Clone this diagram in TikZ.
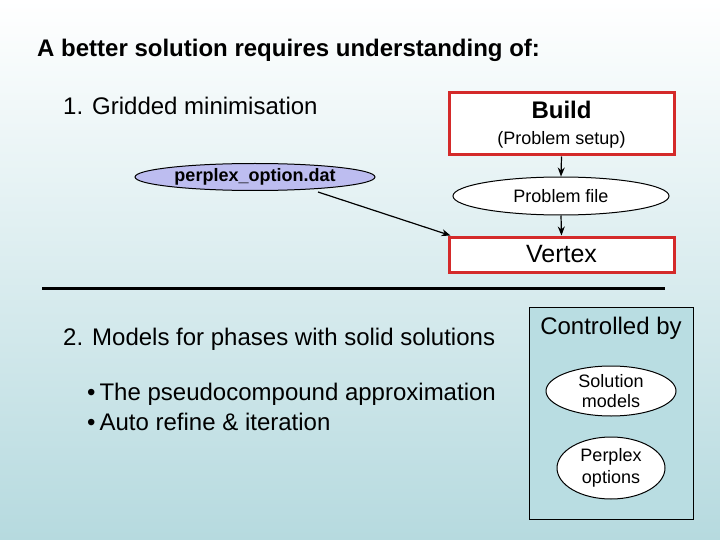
\documentclass[tikz,border=0pt]{standalone}
\usepackage{fontspec}
\setmainfont{Liberation Sans}
\usetikzlibrary{shapes.geometric,arrows.meta}
\definecolor{bgtop}{HTML}{FFFFFF}
\definecolor{bgbot}{HTML}{B6DADF}
\definecolor{boxred}{HTML}{D42A2A}
\definecolor{lav}{HTML}{BDBDF0}
\definecolor{ctrlfill}{HTML}{B9DDE2}
\newcommand{\fs}[1]{\fontsize{#1}{#1}\selectfont}
\tikzset{
  redbox/.style={draw=boxred, line width=3pt, fill=white, inner sep=0pt},
  oval/.style={ellipse, draw=black, line width=1pt, fill=white, inner sep=0pt, align=center},
  conn/.style={line width=1.2pt, -{Stealth[length=9pt,width=7pt]}},
  txt/.style={anchor=base west, inner sep=0pt},
}
\begin{document}
\begin{tikzpicture}[x=1pt,y=-1pt]
\useasboundingbox (0,0) rectangle (720,540);
\shade[top color=bgtop, bottom color=bgbot] (0,0) rectangle (720,540);

\node[txt] (title) at (37,57) {\fs{24}\bfseries A better solution requires understanding of:};
\node[txt] (item1) at (63,115) {\fs{24}1.\hspace{9pt}Gridded minimisation};

\node[redbox, minimum width=225pt, minimum height=62pt] (build) at (561.5,124) {};
\node (buildt) at (561.5,110) {\fs{24}\bfseries Build};
\node (setup) at (561.5,140) {\fs{18}(Problem setup)};

\node[oval, fill=lav, minimum width=240pt, minimum height=27pt] (popt) at (255,177) {\fs{18}\bfseries perplex\_option.dat};
\node[oval, minimum width=216pt, minimum height=38pt] (pfile) at (561,196) {\fs{18}Problem file};

\node[redbox, minimum width=225pt, minimum height=35pt] (vertex) at (561.5,254.5) {\fs{25}Vertex};

\draw[conn] (build.south) -- (pfile.north);
\draw[conn] (pfile.south) -- (vertex.north);
\coordinate (ps) at (318,192);
\draw[conn] (ps) -- ([xshift=3pt]vertex.north west);

\coordinate (hl) at (42,288);
\coordinate (hr) at (665,288);
\draw[line width=3pt] (hl) -- (hr);

\node[txt] (item2) at (63,345) {\fs{24}2.\hspace{9pt}Models for phases with solid solutions};
\node[txt] (b1) at (87,400) {\fs{24}\textbullet\hspace{4pt}The pseudocompound approximation};
\node[txt] (b2) at (87,430) {\fs{24}\textbullet\hspace{4pt}Auto refine \& iteration};

\node[draw=black, line width=1pt, fill=ctrlfill, minimum width=164pt, minimum height=212pt, inner sep=0pt] (ctrl) at (611,413) {};
\node (ctrlt) at (611,328) {\fs{24}Controlled by};
\node[oval, minimum width=130pt, minimum height=50pt, font={\fontsize{18}{20}\selectfont}] (sol) at (611,391) {Solution\\models};
\node[oval, minimum width=108pt, minimum height=62pt, font={\fontsize{18}{22}\selectfont}] (popts) at (611,468) {Perplex\\options};
\end{tikzpicture}
\end{document}
